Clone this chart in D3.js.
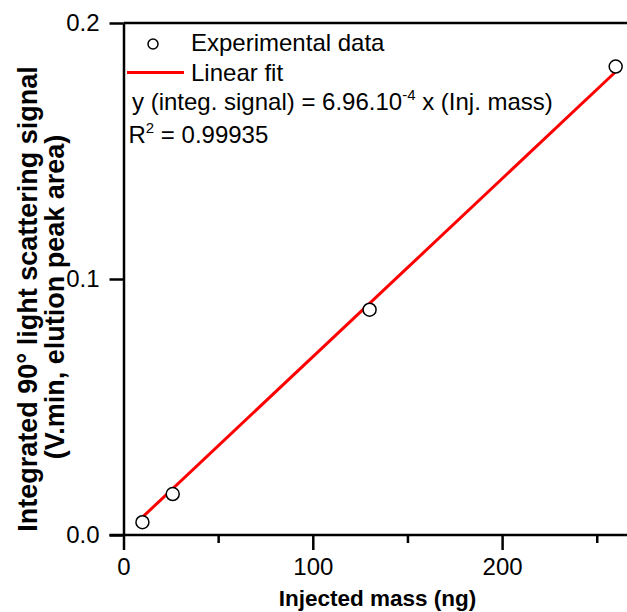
<!DOCTYPE html>
<html>
<head>
<meta charset="utf-8">
<script src="https://cdn.jsdelivr.net/npm/d3@7"></script>
<style>
  html, body { margin: 0; padding: 0; background: #fff; }
  svg { display: block; font-family: "Liberation Sans", Arial, sans-serif; }
</style>
</head>
<body>
<svg id="chart" width="627" height="612"></svg>
<script>
// ---- data ----
const injectedMass = [10, 26, 130, 260];
const signal = [0.005, 0.016, 0.088, 0.183];
const fitSlope = 6.96e-4;
const fitRange = [10, 260];
const xMajorTicks = [0, 100, 200];
const xMinorTicks = [50, 150, 250];
const yTicks = [0.0, 0.1, 0.2];
const yTickLabels = ["0.0", "0.1", "0.2"];
const legendLabels = ["Experimental data", "Linear fit"];

// ---- layout ----
const svg = d3.select("#chart");
const x = d3.scaleLinear().domain([0, 300]).range([123.5, 123.5 + 1.893 * 300]);
const y = d3.scaleLinear().domain([0, 0.2]).range([535, 23]);
const axisW = 2.5;

// top frame line
svg.append("line")
  .attr("x1", x(0)).attr("x2", 640)
  .attr("y1", y(0.2)).attr("y2", y(0.2))
  .attr("stroke", "#000").attr("stroke-width", axisW);

// x axis (major)
const xAxis = svg.append("g").attr("transform", `translate(0,${y(0)})`)
  .call(d3.axisBottom(x).tickValues(xMajorTicks).tickFormat(d3.format("d"))
    .tickSize(15).tickPadding(8).tickSizeOuter(0));
xAxis.select(".domain").attr("stroke-width", axisW).attr("d", `M${x(0) - 14},0H640`);
xAxis.selectAll(".tick line").attr("stroke-width", axisW);
xAxis.selectAll(".tick text").attr("font-size", 24).attr("fill", "#000")
  .attr("font-family", "Liberation Sans, Arial, sans-serif");

// x axis minor
const xMinor = svg.append("g").attr("transform", `translate(0,${y(0)})`)
  .call(d3.axisBottom(x).tickValues(xMinorTicks).tickFormat("").tickSize(8).tickSizeOuter(0));
xMinor.select(".domain").remove();
xMinor.selectAll(".tick line").attr("stroke-width", axisW);

// y axis
const yAxis = svg.append("g").attr("transform", `translate(${x(0)},0)`)
  .call(d3.axisLeft(y).tickValues(yTicks).tickFormat((d, i) => yTickLabels[i])
    .tickSize(14).tickPadding(10).tickSizeOuter(0));
yAxis.select(".domain").attr("stroke-width", axisW);
yAxis.selectAll(".tick line").attr("stroke-width", axisW);
yAxis.selectAll(".tick text").attr("font-size", 24).attr("fill", "#000")
  .attr("font-family", "Liberation Sans, Arial, sans-serif");

// fit line
svg.append("line")
  .attr("x1", x(fitRange[0])).attr("y1", y(fitSlope * fitRange[0]))
  .attr("x2", x(fitRange[1])).attr("y2", y(fitSlope * fitRange[1]))
  .attr("stroke", "#ff0000").attr("stroke-width", 3);

// data points
svg.append("g").selectAll("circle")
  .data(injectedMass.map((m, i) => [m, signal[i]]))
  .join("circle")
  .attr("cx", d => x(d[0])).attr("cy", d => y(d[1]))
  .attr("r", 6.5).attr("fill", "#fff").attr("stroke", "#000").attr("stroke-width", 1.5);

// legend
const leg = svg.append("g");
leg.append("circle").attr("cx", 153).attr("cy", 44).attr("r", 5)
  .attr("fill", "#fff").attr("stroke", "#000").attr("stroke-width", 1.5);
leg.append("line").attr("x1", 127).attr("x2", 184).attr("y1", 72.5).attr("y2", 72.5)
  .attr("stroke", "#ff0000").attr("stroke-width", 3);
leg.append("text").attr("x", 191).attr("y", 51).attr("font-size", 24).text(legendLabels[0]);
leg.append("text").attr("x", 191).attr("y", 81).attr("font-size", 24).text(legendLabels[1]);

const eq = leg.append("text").attr("x", 132).attr("y", 110).attr("font-size", 24);
eq.append("tspan").text("y (integ. signal) = 6.96.10");
eq.append("tspan").attr("font-size", 15).attr("dy", -10).text("-4");
eq.append("tspan").attr("dy", 10).text(" x (Inj. mass)");

const r2 = leg.append("text").attr("x", 128.5).attr("y", 142.5).attr("font-size", 24);
r2.append("tspan").text("R");
r2.append("tspan").attr("font-size", 15).attr("dy", -10).text("2");
r2.append("tspan").attr("dy", 10).text(" = 0.99935");

// axis titles
svg.append("text")
  .attr("x", 377.5).attr("y", 606)
  .attr("text-anchor", "middle").attr("font-size", 22.5).attr("font-weight", "bold")
  .text("Injected mass (ng)");

svg.append("text")
  .attr("transform", "translate(37,299) rotate(-90)")
  .attr("text-anchor", "middle").attr("font-size", 27).attr("font-weight", "bold")
  .text("Integrated 90° light scattering signal");
svg.append("text")
  .attr("transform", "translate(64,297) rotate(-90)")
  .attr("text-anchor", "middle").attr("font-size", 27).attr("font-weight", "bold")
  .text("(V.min, elution peak area)");
</script>
</body>
</html>
